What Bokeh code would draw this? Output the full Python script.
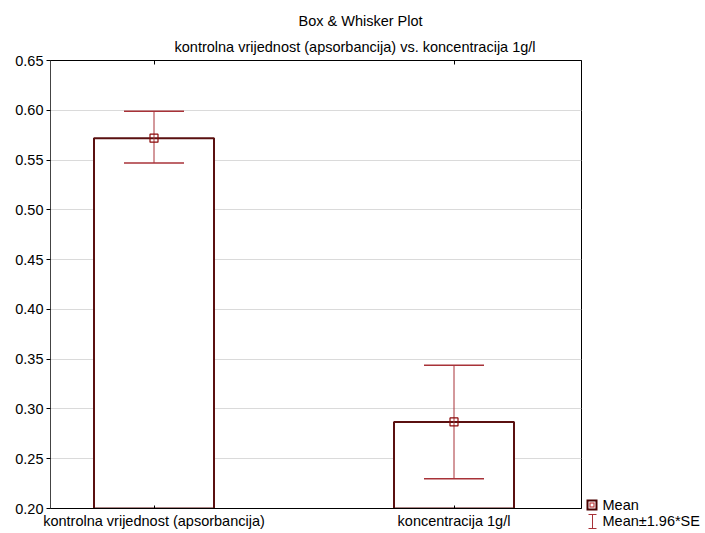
from bokeh.plotting import figure
from bokeh.models import Range1d, FixedTicker, LinearAxis, Title, Div
from bokeh.layouts import row
from bokeh.embed import file_html
from bokeh.resources import INLINE

# ---- data ----
categories = ["kontrolna vrijednost (apsorbancija)", "koncentracija 1g/l"]
means = [0.572, 0.287]
upper = [0.599, 0.344]
lower = [0.547, 0.230]
y_ticks = [0.20, 0.25, 0.30, 0.35, 0.40, 0.45, 0.50, 0.55, 0.60, 0.65]
y_tick_labels = ["0.20", "0.25", "0.30", "0.35", "0.40", "0.45", "0.50", "0.55", "0.60", "0.65"]
title_text = "Box & Whisker Plot"
subtitle_text = "kontrolna vrijednost (apsorbancija) vs. koncentracija 1g/l"
legend_labels = ["Mean", "Mean±1.96*SE"]

FONT = "Liberation Sans"
FS = "14.5px"
BAR_COLOR = "#5a1010"
WHISK_COLOR = "#a83238"
MEAN_COLOR = "#8b0a0a"

xs = list(range(1, len(categories) + 1))

p = figure(width=586, height=533,
           x_range=Range1d(0.655, 2.425), y_range=Range1d(0.20, 0.65),
           output_backend="svg", toolbar_location=None,
           min_border_left=50, min_border_right=5,
           min_border_top=60, min_border_bottom=25)

p.outline_line_color = "black"
p.outline_line_width = 1
p.background_fill_color = "white"
p.xgrid.visible = False
p.ygrid.grid_line_color = "#dadada"
p.ygrid.ticker = FixedTicker(ticks=y_ticks)

# y axis
p.yaxis.ticker = FixedTicker(ticks=y_ticks)
p.yaxis.major_label_overrides = {t: l for t, l in zip(y_ticks, y_tick_labels)}
p.yaxis.major_tick_out = 4
p.yaxis.major_tick_in = 0
p.yaxis.minor_tick_line_color = None
p.yaxis.major_label_standoff = 3
p.yaxis.axis_line_color = "#444444"
p.yaxis.major_label_text_font = FONT
p.yaxis.major_label_text_font_size = FS
p.yaxis.major_label_text_color = "black"

# x axis (bottom)
p.xaxis.ticker = FixedTicker(ticks=xs)
p.xaxis.major_label_overrides = {x: c for x, c in zip(xs, categories)}
p.xaxis.major_tick_out = 0
p.xaxis.major_tick_in = 3
p.xaxis.minor_tick_line_color = None
p.xaxis.major_label_standoff = 4
p.xaxis.axis_line_color = "black"
p.xaxis.major_label_text_font = FONT
p.xaxis.major_label_text_font_size = FS
p.xaxis.major_label_text_color = "black"

# top axis with inner ticks only
top = LinearAxis(ticker=FixedTicker(ticks=xs),
                 major_label_overrides={x: "" for x in xs},
                 major_label_text_font_size="1px", major_label_standoff=0,
                 major_tick_out=0, major_tick_in=4,
                 minor_tick_line_color=None, axis_line_color="black")
p.add_layout(top, "above")

# titles (left aligned with offsets to place them like the reference)
p.add_layout(Title(text=subtitle_text, align="left", offset=124, standoff=12,
                   text_font=FONT, text_font_size=FS, text_font_style="normal",
                   text_color="black"), "above")
p.add_layout(Title(text=title_text, align="left", offset=248, standoff=4,
                   text_font=FONT, text_font_size=FS, text_font_style="normal",
                   text_color="black"), "above")

# bars
p.vbar(x=xs, top=means, bottom=0.20, width=0.4,
       fill_color="white", line_color=BAR_COLOR, line_width=2)

# whiskers
p.segment(x0=xs, y0=lower, x1=xs, y1=upper, line_color=WHISK_COLOR, line_width=1)
p.segment(x0=[x - 0.1 for x in xs], y0=upper, x1=[x + 0.1 for x in xs], y1=upper,
          line_color=WHISK_COLOR, line_width=1.5)
p.segment(x0=[x - 0.1 for x in xs], y0=lower, x1=[x + 0.1 for x in xs], y1=lower,
          line_color=WHISK_COLOR, line_width=1.5)

# mean markers
p.scatter(x=xs, y=means, marker="square", size=8,
          fill_color=None, line_color=MEAN_COLOR, line_width=1.2)

# ---- legend panel (outside the plot frame, bottom right) ----
legend_html = f"""
<div style="position:relative;width:117px;height:533px;font-family:'{FONT}';font-size:{FS};color:black;">
  <svg style="position:absolute;left:0;top:0;" width="16" height="533">
    <rect x="1.5" y="500.5" width="9" height="9" fill="none" stroke="#4a0000" stroke-width="2"/>
    <rect x="4" y="503" width="4" height="4" fill="none" stroke="#c04040" stroke-width="1.2"/>
    <line x1="6.5" y1="514" x2="6.5" y2="529" stroke="{WHISK_COLOR}" stroke-width="1"/>
    <line x1="2.5" y1="514.5" x2="10.5" y2="514.5" stroke="{WHISK_COLOR}" stroke-width="1"/>
    <line x1="2.5" y1="528.5" x2="10.5" y2="528.5" stroke="{WHISK_COLOR}" stroke-width="1"/>
  </svg>
  <div style="position:absolute;left:16.5px;top:497px;line-height:16px;white-space:nowrap;">{legend_labels[0]}</div>
  <div style="position:absolute;left:16.5px;top:513px;line-height:16px;white-space:nowrap;">{legend_labels[1]}</div>
</div>
"""
legend_div = Div(text=legend_html, width=117, height=533, margin=0)

layout = row(p, legend_div)
open("out.html", "w").write(file_html(layout, INLINE))
